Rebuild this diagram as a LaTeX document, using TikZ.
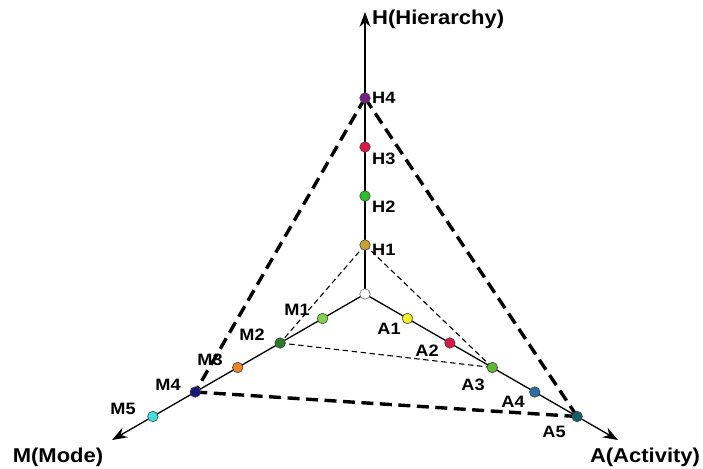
\documentclass[tikz,border=0pt]{standalone}
\usepackage{fontspec}
\setmainfont{Liberation Sans}[FakeStretch=1.1]
\usetikzlibrary{arrows.meta}
\definecolor{cH4}{HTML}{7A1F86}
\definecolor{cH3}{HTML}{D8194A}
\definecolor{cH2}{HTML}{2DBE2D}
\definecolor{cH1}{HTML}{C9A032}
\definecolor{cM1}{HTML}{7ED44C}
\definecolor{cM2}{HTML}{2C7A2C}
\definecolor{cM3}{HTML}{EC8424}
\definecolor{cM4}{HTML}{14187A}
\definecolor{cM5}{HTML}{3EE0E0}
\definecolor{cA1}{HTML}{F2F024}
\definecolor{cA2}{HTML}{D8194A}
\definecolor{cA3}{HTML}{5DBA2E}
\definecolor{cA4}{HTML}{2A6EA8}
\definecolor{cA5}{HTML}{16606E}
\begin{document}
\begin{tikzpicture}[x=1pt,y=-1pt,
  axis/.style={line width=1.3pt,-{Stealth[length=15pt,width=11pt]}},
  dot/.style={circle,draw=black!75,line width=0.6pt,inner sep=0pt,minimum size=10.5pt},
  thickdash/.style={line width=3.4pt,dash pattern=on 12pt off 6.5pt},
  thindash/.style={line width=1.1pt,dash pattern=on 5.5pt off 3.5pt},
  lab/.style={font=\fontsize{16.5}{16.5}\selectfont\bfseries,inner sep=0pt},
  axlab/.style={font=\fontsize{20}{20}\selectfont\bfseries,inner sep=0pt}]
\useasboundingbox (0,0) rectangle (703,468);
\def\u{49}
\coordinate (O) at (365,294);
\path (O) ++(0,-282) coordinate (Htip);
\path (O) ++(-252.9,146) coordinate (Mtip);
\path (O) ++(252.9,146) coordinate (Atip);
\foreach \k in {1,...,5}{
  \path (O) ++(0,{-\k*\u}) coordinate (h\k);
  \path (O) ++({-\k*\u*0.866},{\k*\u*0.5}) coordinate (m\k);
  \path (O) ++({\k*\u*0.866},{\k*\u*0.5}) coordinate (a\k);
}
\draw[axis] (O) -- (Htip);
\draw[axis] (O) -- (Mtip);
\draw[axis] (O) -- (Atip);
% dashed triangles
\draw[thickdash] (h4) -- (m4);
\draw[thickdash] (h4) -- (a5);
\draw[thickdash] (m4) -- (a5);
\draw[thindash] (h1) -- (m2);
\draw[thindash] (h1) -- (a3);
\draw[thindash] (m2) -- (a3);
% dots
\node[dot,fill=white,draw=black!60] (n0) at (O) {};
\node[dot,fill=cH1] (H1) at (h1) {};
\node[dot,fill=cH2] (H2) at (h2) {};
\node[dot,fill=cH3] (H3) at (h3) {};
\node[dot,fill=cH4] (H4) at (h4) {};
\node[dot,fill=cM1] (M1) at (m1) {};
\node[dot,fill=cM2] (M2) at (m2) {};
\node[dot,fill=cM3] (M3) at (m3) {};
\node[dot,fill=cM4] (M4) at (m4) {};
\node[dot,fill=cM5] (M5) at (m5) {};
\node[dot,fill=cA1] (A1) at (a1) {};
\node[dot,fill=cA2] (A2) at (a2) {};
\node[dot,fill=cA3] (A3) at (a3) {};
\node[dot,fill=cA4] (A4) at (a4) {};
\node[dot,fill=cA5] (A5) at (a5) {};
% labels
\node[lab,anchor=west] (lH4) at (372,98) {H4};
\node[lab,anchor=west] (lH3) at (372,159) {H3};
\node[lab,anchor=west] (lH2) at (372,207) {H2};
\node[lab,anchor=west] (lH1) at (372,250) {H1};
\node[lab] (lM1) at (297,310) {M1};
\node[lab] (lM2) at (252,335) {M2};
\node[lab] (lM3) at (210,360) {M3};
\node[lab] (lM4) at (168,385) {M4};
\node[lab] (lM5) at (123,409) {M5};
\node[lab] (lA1) at (389,329) {A1};
\node[lab] (lA2) at (427,351) {A2};
\node[lab] (lA3) at (473,385) {A3};
\node[lab] (lA4) at (513,402) {A4};
\node[lab] (lA5) at (554,432) {A5};
\node[axlab,anchor=west] (lH) at (372,19) {H(Hierarchy)};
\node[axlab] (lM) at (58,457) {M(Mode)};
\node[axlab] (lA) at (645,457) {A(Activity)};
\end{tikzpicture}
\end{document}
